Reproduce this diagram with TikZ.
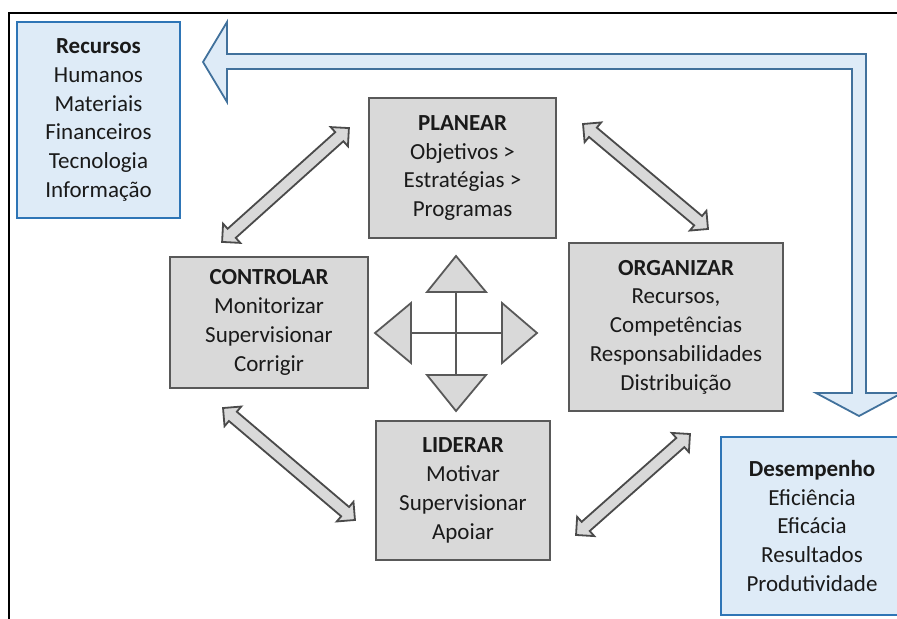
\documentclass[tikz,border=0pt]{standalone}
\usepackage{fontspec}
\setmainfont{Carlito}
\usepackage{xcolor}
\usepackage{tikz}
\usetikzlibrary{shapes.arrows}
\usetikzlibrary{calc}

\definecolor{boxgray}{HTML}{D9D9D9}
\definecolor{boxline}{HTML}{595959}
\definecolor{arrline}{HTML}{4A4A4A}
\definecolor{bluefill}{HTML}{DEEBF7}
\definecolor{blueline}{HTML}{2E75B6}
\definecolor{bigarrow}{HTML}{41719C}
\definecolor{txt}{HTML}{1A1A1A}

\tikzset{
    txtfont/.style={font=\fontsize{11.5}{14.4}\selectfont, text=txt},
    graybox/.style={draw=boxline, fill=boxgray, line width=1pt, align=center,
        inner sep=0pt, txtfont},
    bluebox/.style={draw=blueline, fill=bluefill, line width=1pt, align=center,
        inner sep=0pt, txtfont},
    tri/.style={draw=boxline, fill=boxgray, line width=0.9pt, line join=miter},
    dblarrow/.style={to path={
        let \p1=(\tikztostart), \p2=(\tikztotarget),
            \n1={atan2(\y2-\y1,\x2-\x1)}, \n2={veclen(\x2-\x1,\y2-\y1)}
        in node[double arrow, draw=arrline, fill=boxgray, line width=0.9pt,
            rotate=\n1, minimum height=\n2, inner xsep=0pt, inner ysep=2.6pt,
            double arrow head extend=3.4pt]
            at ($(\p1)!0.5!(\p2)$) {}
    }}
}

\begin{document}
\begin{tikzpicture}[x=0.5pt, y=-0.5pt]
        \clip (0, 0) rectangle (897, 619);

        % frame
        \draw[line width=1.2pt] (9, 630) -- (9, 13) -- (910, 13);

        % feedback arrow
        \draw[draw=bigarrow, fill=bluefill, line width=0.9pt, line join=miter]
            (203, 62) -- (227, 22) -- (227, 54) -- (866, 54) -- (866, 393)
            -- (902, 393) -- (859, 416) -- (816, 393) -- (852, 393)
            -- (852, 69) -- (227, 69) -- (227, 102) -- cycle;

        \node[bluebox, minimum width=81.5pt, minimum height=98pt] (rec) at (98.5, 120)
            {\textbf{Recursos}\\Humanos\\Materiais\\Financeiros\\Tecnologia\\Informação};
        \node[bluebox, minimum width=91pt, minimum height=89pt] (des) at (812, 526)
            {\textbf{Desempenho}\\Eficiência\\Eficácia\\Resultados\\Produtividade};

        \node[graybox, minimum width=93.5pt, minimum height=70pt] (pla) at (462.5, 168)
            {\textbf{PLANEAR}\\Objetivos >\\Estratégias >\\Programas};
        \node[graybox, minimum width=99pt, minimum height=65.5pt] (con) at (269, 322.5)
            {\textbf{CONTROLAR}\\Monitorizar\\Supervisionar\\Corrigir};
        \node[graybox, minimum width=107pt, minimum height=84pt] (org) at (676, 327)
            {\textbf{ORGANIZAR}\\Recursos,\\Competências\\Responsabilidades\\Distribuição};
        \node[graybox, minimum width=87pt, minimum height=69.5pt] (lid) at (463, 490.5)
            {\textbf{LIDERAR}\\Motivar\\Supervisionar\\Apoiar};

        % arrow ends
        \coordinate (conUp) at (222, 242);
        \coordinate (plaL) at (349, 128);
        \coordinate (plaR) at (583, 124);
        \coordinate (orgUp) at (708, 229);
        \coordinate (conDn) at (223, 408);
        \coordinate (lidL) at (355, 520);
        \coordinate (orgDn) at (690, 434);
        \coordinate (lidR) at (576, 535);

        \path[dblarrow] (conUp) to (plaL);
        \path[dblarrow] (plaR) to (orgUp);
        \path[dblarrow] (conDn) to (lidL);
        \path[dblarrow] (orgDn) to (lidR);

        % cross in the middle
        \draw[draw=boxline, line width=1pt] (456, 292) -- (456, 375);
        \draw[draw=boxline, line width=1pt] (411, 333) -- (502, 333);
        \filldraw[tri] (456, 256) -- (486, 292) -- (427, 292) -- cycle;
        \filldraw[tri] (456, 411) -- (486, 375) -- (427, 375) -- cycle;
        \filldraw[tri] (375, 333) -- (411, 303) -- (411, 363) -- cycle;
        \filldraw[tri] (537, 333) -- (502, 303) -- (502, 363) -- cycle;
\end{tikzpicture}
\end{document}
